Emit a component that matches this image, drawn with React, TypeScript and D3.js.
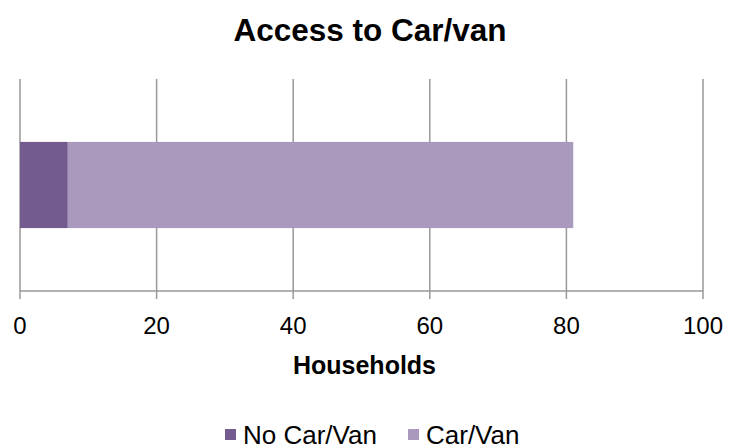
import React, { useEffect, useRef } from 'react';
import * as d3 from 'd3';

const categories = ['Households'];
const seriesNames = ['No Car/Van', 'Car/Van'];
const noCarValues = [7];
const carValues = [74];
const xTicks = [0, 20, 40, 60, 80, 100];
const colors = ['#735a8f', '#a899bd'];

const App: React.FC = () => {
  const svgRef = useRef<SVGSVGElement>(null);

  useEffect(() => {
    if (!svgRef.current) return;
    const svg = d3.select(svgRef.current);
    svg.selectAll('*').remove();

    const width = 731;
    const height = 445;
    const margin = { top: 79, right: 28, bottom: 154, left: 20 };
    const innerWidth = width - margin.left - margin.right;
    const innerHeight = height - margin.top - margin.bottom;
    const font = 'Liberation Sans, Arial, sans-serif';

    svg.attr('width', width).attr('height', height).style('font-family', font);

    // title
    svg.append('text')
      .attr('x', 370)
      .attr('y', 41)
      .attr('text-anchor', 'middle')
      .attr('font-weight', 'bold')
      .attr('font-size', '31.5px')
      .text('Access to Car/van');

    const g = svg.append('g').attr('transform', `translate(${margin.left},${margin.top})`);

    const x = d3.scaleLinear().domain([0, 100]).range([0, innerWidth]);
    const y = d3.scaleBand().domain(categories).range([0, innerHeight]).paddingInner(0).paddingOuter(0.73);

    // gridlines + ticks
    xTicks.forEach(t => {
      g.append('line')
        .attr('x1', x(t)).attr('x2', x(t))
        .attr('y1', 0).attr('y2', innerHeight + 8)
        .attr('stroke', '#999')
        .attr('stroke-width', 1.5);
    });

    // bars (stacked)
    const rows = categories.map((c, i) => ({ cat: c, values: [noCarValues[i], carValues[i]] }));
    rows.forEach(r => {
      let acc = 0;
      r.values.forEach((v, si) => {
        g.append('rect')
          .attr('x', x(acc))
          .attr('y', y(r.cat)!)
          .attr('width', x(acc + v) - x(acc))
          .attr('height', y.bandwidth())
          .attr('fill', colors[si]);
        acc += v;
      });
    });

    // x axis line
    g.append('line')
      .attr('x1', 0).attr('x2', innerWidth)
      .attr('y1', innerHeight).attr('y2', innerHeight)
      .attr('stroke', '#999')
      .attr('stroke-width', 1.5);

    // tick labels
    xTicks.forEach(t => {
      g.append('text')
        .attr('x', x(t))
        .attr('y', innerHeight + 43)
        .attr('text-anchor', 'middle')
        .attr('font-size', '24px')
        .text(String(t));
    });

    // axis title
    svg.append('text')
      .attr('x', 364.5)
      .attr('y', 374)
      .attr('text-anchor', 'middle')
      .attr('font-weight', 'bold')
      .attr('font-size', '25px')
      .text('Households');

    // legend
    const legendX = [225, 408];
    seriesNames.forEach((name, i) => {
      svg.append('rect')
        .attr('x', legendX[i])
        .attr('y', 429)
        .attr('width', 11)
        .attr('height', 11)
        .attr('fill', colors[i]);
      svg.append('text')
        .attr('x', legendX[i] + 18)
        .attr('y', 444)
        .attr('font-size', '26px')
        .text(name);
    });
  }, []);

  return <svg ref={svgRef} style={{ display: 'block', position: 'absolute', left: 0, top: 0 }}></svg>;
};

export default App;
